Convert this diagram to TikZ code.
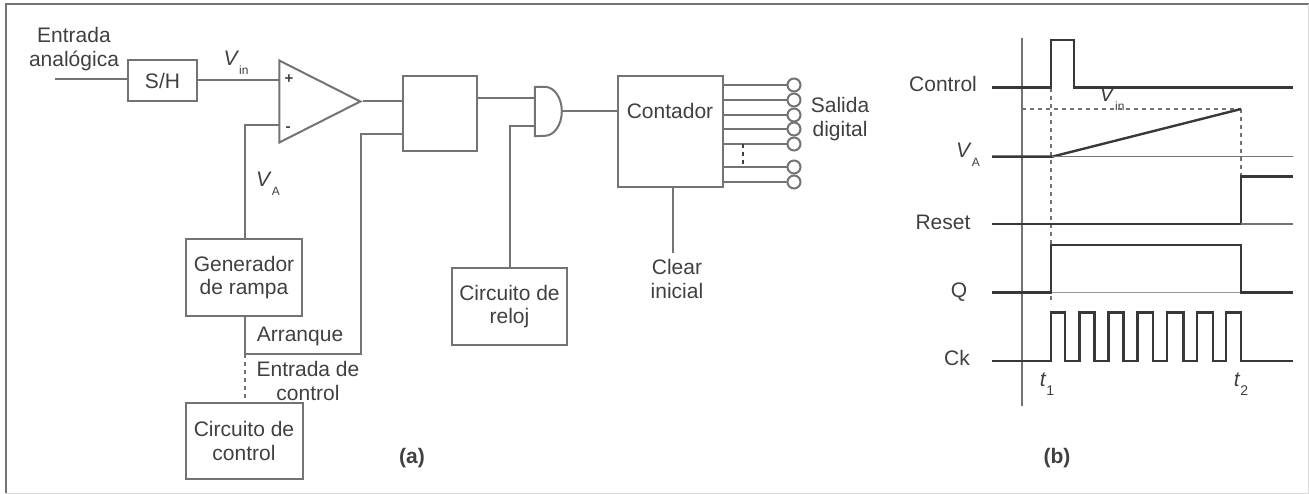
\documentclass[tikz,border=0pt]{standalone}
\usepackage{fontspec}
\setmainfont{Liberation Sans}
\usetikzlibrary{positioning,shapes.geometric}
\definecolor{ink}{gray}{0.25}
\definecolor{wire}{gray}{0.45}
\tikzset{
  box/.style   ={draw=wire, line width=2pt, inner sep=0pt, align=center, text=ink,
                 font=\fontsize{21}{23.5}\selectfont},
  txt/.style   ={inner sep=0pt, align=center, text=ink, font=\fontsize{21}{23.5}\selectfont},
  tag/.style   ={txt, font=\fontsize{21}{23}\selectfont\bfseries},
  amp/.style   ={isosceles triangle, draw=wire, line width=2pt, inner sep=0pt,
                 isosceles triangle apex angle=52.6, isosceles triangle stretches,
                 minimum width=82pt, minimum height=81pt},
  gate/.style  ={inner sep=0pt, minimum width=27pt, minimum height=49pt},
  pin/.style   ={circle, draw=wire, line width=2pt, inner sep=0pt, minimum size=13pt, fill=white},
  fl/.style    ={draw=wire, line width=2pt},
  dsh/.style   ={draw=wire, line width=1.8pt, dash pattern=on 4pt off 4pt},
  sg/.style    ={draw=black!78, line width=2.4pt, line join=miter},
  thn/.style   ={draw=wire, line width=1.6pt}
}
\newcommand{\volt}[2]{\textit{#1}\raisebox{-9pt}{\fontsize{12}{12}\selectfont #2}}
\newcommand{\tme}[2]{\textit{#1}\raisebox{-9pt}{\fontsize{14}{14}\selectfont #2}}

\begin{document}
\begin{tikzpicture}[x=1pt,y=-1pt]
  \useasboundingbox (0,0) rectangle (1309,494);
  \draw[draw=black!55, line width=1.8pt] (6,493)--(6,4)--(1309,4);
  \draw[draw=black!15, line width=1pt] (6,493)--(1308,493)--(1308,4);

  % (a)
  \node[txt](ain) at (74,49){Entrada\\analógica};
  \node[box, minimum width=69pt, minimum height=41pt](sh) at (162.5,80.5){S/H};
  \node[amp](op) at (304.5,101.5){};
  \node[box, minimum width=74pt, minimum height=75pt](ff) at (440,113.5){};
  \node[gate](andg) at (548.5,111.5){};
  \node[box, minimum width=105pt, minimum height=111pt](cnt) at (670.5,131.5){};
  \node[txt](cntl) at (670,111){Contador};
  \node[box, minimum width=116pt, minimum height=77pt](gen) at (244,277.5){Generador\\de rampa};
  \node[box, minimum width=117pt, minimum height=76pt, below=85pt of gen](ctl){Circuito de\\control};
  \node[box, minimum width=115pt, minimum height=77pt](clk) at (509.5,306.5){Circuito de\\reloj};

  \node[txt](vin) at (236,63){\volt{V}{in}};
  \node[txt](va) at (268,184){\volt{V}{A}};
  \node[txt, font=\fontsize{15}{15}\selectfont\bfseries](pl) at (289,79){+};
  \node[txt, font=\fontsize{15}{15}\selectfont\bfseries](mi) at (288,129){-};
  \node[txt](arr) at (300,336){Arranque};
  \node[txt](ent) at (308,381){Entrada de\\control};
  \node[txt](clr) at (677,279){Clear\\inicial};
  \node[txt](sal) at (840,119){Salida\\digital};
  \node[tag](a) at (412,458){(a)};

  \node[pin](o1) at (794,85){};
  \node[pin](o2) at (794,100){};
  \node[pin](o3) at (794,115){};
  \node[pin](o4) at (794,129){};
  \node[pin](o5) at (794,144){};
  \node[pin](o6) at (794,167){};
  \node[pin](o7) at (794,182){};

  \coordinate (src) at (55,79);
  \coordinate (opp) at (279,80.5);
  \coordinate (opm) at (279,125);
  \coordinate (ffb) at (403,134);
  \coordinate (ffc) at (477,97.7);
  \coordinate (gin1) at (535,97.7);
  \coordinate (gin2) at (535,125.7);
  \coordinate (start) at (245,354);
  \coordinate (clrend) at (673,253);
  \coordinate (c1) at (723,85);
  \coordinate (c2) at (723,100);
  \coordinate (c3) at (723,115);
  \coordinate (c4) at (723,129);
  \coordinate (c5) at (723,144);
  \coordinate (c6) at (723,167);
  \coordinate (c7) at (723,182);
  \coordinate (br1) at (743,144);
  \coordinate (br2) at (743,167);

  \draw[fl](andg.south west)--(andg.north west)--++(10,0) arc[start angle=-90,end angle=90,x radius=17,y radius=24.5]--cycle;
  \draw[fl](src)--(src-|sh.west);
  \draw[fl](sh.east|-opp)--(opp);
  \draw[fl](op.apex)--(op.apex-|ff.west);
  \draw[fl](ffc)--(gin1);
  \draw[fl](andg.east)--(andg.east-|cnt.west);
  \draw[fl](clk.north)|-(gin2);
  \draw[fl]([xshift=1pt]gen.north)|-(opm);
  \draw[fl]([xshift=1pt]gen.south)--(start);
  \draw[fl](start)-|(360.5,134)--(ffb);
  \draw[dsh](start)--(start|-ctl.north);
  \draw[fl](clrend)--(clrend|-cnt.south);
  \draw[fl](c1)--(o1);
  \draw[fl](c2)--(o2);
  \draw[fl](c3)--(o3);
  \draw[fl](c4)--(o4);
  \draw[fl](c5)--(o5);
  \draw[fl](c6)--(o6);
  \draw[fl](c7)--(o7);
  \draw[draw=ink, line width=1.3pt, dash pattern=on 4pt off 4pt](br1)--(br2);

  % (b)
  \node[txt](lctl) at (943,84){Control};
  \node[txt](lva) at (968,155){\volt{V}{A}};
  \node[txt](lrst) at (943,222){Reset};
  \node[txt](lq) at (959,292){Q};
  \node[txt](lck) at (957,358){Ck};
  \node[txt](lvin) at (1112,99){\volt{V}{in}};
  \node[txt](lt1) at (1047,384){\tme{t}{1}};
  \node[txt](lt2) at (1241,384){\tme{t}{2}};
  \node[tag](b) at (1057,458){(b)};

  \draw[thn](1021.7,38)--(1021.7,406);
  \draw[dsh](1021.7,109)--(1241,109);
  \draw[dsh](1050.7,88)--(1050.7,304);
  \draw[dsh](1241,109)--(1241,176);
  \draw[sg](992,87.7)-|(1050.7,40)-|(1074,87.7)--(1293,87.7);
  \draw[sg](992,156.7)--(1052,156.7)--(1241,109);
  \draw[thn](1052,156.7)--(1293,156.7);
  \draw[sg](992,224)-|(1241,176.7)--(1293,176.7);
  \draw[thn](1241,224)--(1293,224);
  \draw[draw=black!40, line width=1.5pt](1051,292.7)--(1241,292.7);
  \draw[sg](992,292.7)-|(1050.7,245)-|(1241,292.7)--(1293,292.7);
  \draw[sg](992,360.7)-|(1050.7,312.7)-|(1065,360.7)-|(1079.3,312.7)-|(1094.3,360.7)
    -|(1108.3,312.7)-|(1123.3,360.7)-|(1137.3,312.7)-|(1152.7,360.7)-|(1166.7,312.7)
    -|(1183.3,360.7)-|(1196.7,312.7)-|(1212.7,360.7)-|(1226,312.7)-|(1241,360.7)--(1293,360.7);
\end{tikzpicture}
\end{document}
